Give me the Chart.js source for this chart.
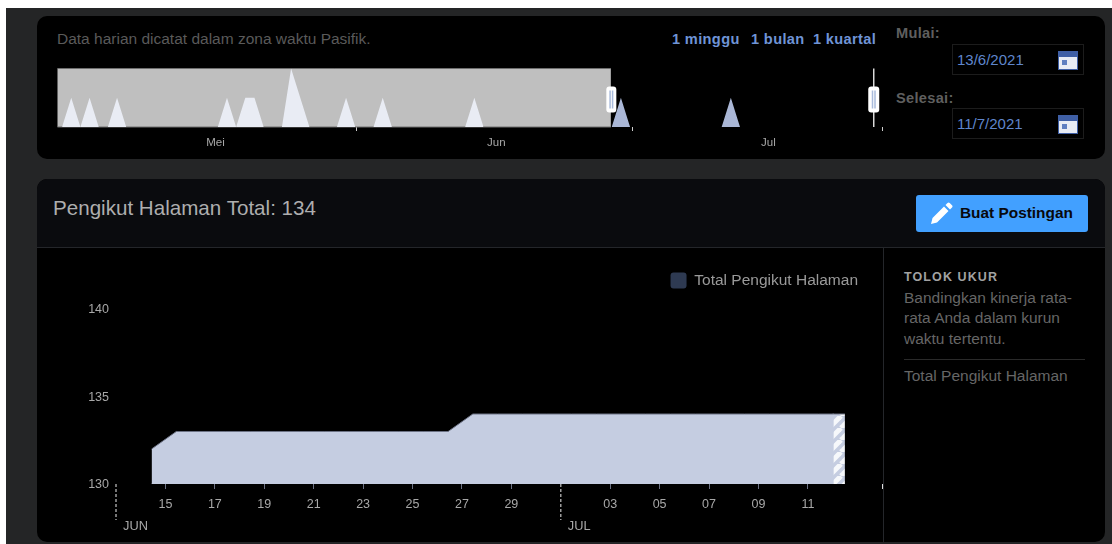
<!DOCTYPE html>
<html lang="id">
<head>
<meta charset="utf-8">
<title>Pengikut Halaman Total</title>
<script src="https://cdn.jsdelivr.net/npm/chart.js@4"></script>
<style>
  html, body { margin: 0; padding: 0; background: #fff; width: 1112px; height: 544px; overflow: hidden; font-family: "Liberation Sans", Arial, sans-serif; }
  .abs, canvas { position: absolute; }
  .txt { position: absolute; white-space: nowrap; line-height: 1; }
  #page { left: 6px; top: 8px; width: 1106px; height: 536px; background: #242526; }
  #rangeCard { left: 37px; top: 16px; width: 1068px; height: 143px; background: #000; border-radius: 10px; }
  #mainCard { left: 37px; top: 179px; width: 1068px; height: 363px; background: #000; border-radius: 10px; overflow: hidden; }
  #mainHead { left: 0; top: 0; width: 1068px; height: 68px; background: #0a0b0e; border-bottom: 1px solid #24262a; }
  #divider { left: 846px; top: 69px; width: 1px; height: 294px; background: #24262a; }
  .link { color: #6f94d6; font-weight: bold; font-size: 14.6px; letter-spacing: .35px; top: 32px; }
  .lab { color: #5f5f5f; font-weight: bold; font-size: 14.6px; letter-spacing: .3px; left: 896px; }
  .date { position: absolute; left: 952px; width: 130px; height: 29px; border: 1px solid #1c1c1c; background: #000; }
  .date span { position: absolute; left: 4px; top: 7px; font-size: 15px; line-height: 1; color: #5f86cc; }
  .date svg { position: absolute; left: 105px; top: 6px; }
  #btn { left: 916px; top: 195px; width: 172px; height: 37px; background: #42a0ff; border-radius: 3px; }
  #btn span { position: absolute; left: 44px; top: 10px; font-size: 15.4px; font-weight: bold; line-height: 1; color: #08090c; white-space: nowrap; }
  #btn svg { position: absolute; left: 14px; top: 7px; }
</style>
</head>
<body>
<div class="abs" id="page"></div>
<div class="abs" id="rangeCard"></div>
<div class="abs" id="mainCard"><div class="abs" id="mainHead"></div><div class="abs" id="divider"></div></div>

<div class="txt" style="left:57px;top:31px;font-size:15.5px;color:#5a5a5a">Data harian dicatat dalam zona waktu Pasifik.</div>
<div class="txt link" style="left:672px">1 minggu</div>
<div class="txt link" style="left:751px">1 bulan</div>
<div class="txt link" style="left:813px">1 kuartal</div>
<div class="txt lab" style="top:26px">Mulai:</div>
<div class="txt lab" style="top:91px">Selesai:</div>
<div class="date" style="top:44px"><span>13/6/2021</span>
  <svg width="20" height="19"><rect width="20" height="19" fill="#3f5fa5"/><rect x="1" y="6" width="18" height="12" fill="#e8ecf4"/><rect x="4" y="9" width="5" height="5" fill="#5f7fc0"/></svg></div>
<div class="date" style="top:108px"><span>11/7/2021</span>
  <svg width="20" height="19"><rect width="20" height="19" fill="#3f5fa5"/><rect x="1" y="6" width="18" height="12" fill="#e8ecf4"/><rect x="4" y="9" width="5" height="5" fill="#5f7fc0"/></svg></div>

<div class="txt" style="left:53px;top:198px;font-size:20.6px;color:#aeaeae">Pengikut Halaman Total: 134</div>
<div class="abs" id="btn">
  <svg width="23" height="23" viewBox="0 0 23 23"><path d="M1 22l1.5-6L14 4.5l4.5 4.5L7 20.5z M15.5 3l2-2a1.6 1.6 0 0 1 2.2 0l2.3 2.3a1.6 1.6 0 0 1 0 2.2l-2 2z" fill="#fff"/></svg>
  <span>Buat Postingan</span>
</div>

<div class="txt" style="left:904px;top:271px;font-size:12.5px;font-weight:bold;letter-spacing:1.1px;color:#a2a2a2">TOLOK UKUR</div>
<div class="txt" style="left:904px;top:290px;font-size:15.5px;color:#666">Bandingkan kinerja rata-</div>
<div class="txt" style="left:904px;top:310px;font-size:15.5px;color:#666">rata Anda dalam kurun</div>
<div class="txt" style="left:904px;top:331px;font-size:15.5px;color:#666">waktu tertentu.</div>
<div class="abs" style="left:904px;top:359px;width:181px;height:1px;background:#2a2a2a"></div>
<div class="txt" style="left:904px;top:368px;font-size:15.5px;color:#666">Total Pengikut Halaman</div>

<canvas id="overview" width="840" height="95" style="left:50px;top:60px"></canvas>
<canvas id="followers" width="853" height="294" style="left:37px;top:248px"></canvas>

<script>
// Overview strip: days counted from the start of the three-month window.
const overviewDays = [0.5, 1.5, 2.5, 3.5, 4.5, 5.5, 6.5, 7.5, 17.5, 18.5, 19.5, 20.5, 21.5, 22.5, 24.5, 25.5, 27.5, 30.5, 31.5, 32.5, 34.5, 35.5, 36.5, 44.5, 45.5, 46.5];
const overviewCounts = [0, 1, 0, 1, 0, 0, 1, 0, 0, 1, 0, 1, 1, 0, 0, 2, 0, 0, 1, 0, 0, 1, 0, 0, 1, 0];
const selectedDays = [60.5, 61.5, 62.5, 72.5, 73.5, 74.5];
const selectedCounts = [0, 1, 0, 0, 1, 0];
const overviewTickDays = [17.25, 32.6, 47.9, 62.8, 77.6, 90];
const overviewTickLabels = ['Mei', '', 'Jun', '', 'Jul', ''];
const selectionStart = 60.4;
const selectionEnd = 89.1;

// Followers chart: days counted from 13 June 2021.
const followerDays = [1.44, 2.44, 3.44, 4.44, 5.44, 6.44, 7.44, 8.44, 9.44, 10.44, 11.44, 12.44, 13.44, 14.44, 15.44, 16.44, 17.44, 18.44, 19.44, 20.44, 21.44, 22.44, 23.44, 24.44, 25.44, 26.44, 27.44, 28.44, 29.05];
const followerTotals = [132, 133, 133, 133, 133, 133, 133, 133, 133, 133, 133, 133, 133, 134, 134, 134, 134, 134, 134, 134, 134, 134, 134, 134, 134, 134, 134, 134, 134];
const partialDays = [29, 29.5];
const partialTotals = [134, 134];
const baselineDays = [1.44, 29.5];
const baselineTotals = [130, 130];
const tickDays = [2, 4, 6, 8, 10, 12, 14, 16, 18, 20, 22, 24, 26, 28, 31];
const tickLabels = ['15', '17', '19', '21', '23', '25', '27', '29', '', '03', '05', '07', '09', '11', ''];
const monthDays = [0, 18];
const monthLabels = ['JUN', 'JUL'];
const yTicks = [130, 135, 140];
const seriesName = 'Total Pengikut Halaman';

const FONT = '"Liberation Sans", Arial, sans-serif';
const points = (xs, ys) => xs.map((x, i) => ({ x, y: ys[i] }));

// Repeating diagonal stripes for the day that is still being counted.
function stripePattern() {
  const c = document.createElement('canvas');
  c.width = c.height = 12;
  const g = c.getContext('2d');
  g.fillStyle = '#c5cde1';
  g.fillRect(0, 0, 12, 12);
  g.strokeStyle = '#f6f8fb';
  g.lineWidth = 5;
  for (const o of [-12, 0, 12]) {
    g.beginPath();
    g.moveTo(o, 12);
    g.lineTo(o + 12, 0);
    g.stroke();
  }
  return g.createPattern(c, 'repeat');
}

function grip(g, left, top, w, h) {
  g.fillStyle = '#fff';
  g.beginPath();
  g.roundRect(left, top, w, h, 3);
  g.fill();
  g.fillStyle = '#a9bbdc';
  g.fillRect(left + w / 2 - 2, top + 4, 1.5, h - 8);
  g.fillRect(left + w / 2 + 0.5, top + 4, 1.5, h - 8);
}

// Grey veil over the days outside the selected range, plus the two drag handles.
const rangeSelection = {
  id: 'rangeSelection',
  beforeDatasetsDraw(chart) {
    const g = chart.ctx, a = chart.chartArea, x = chart.scales.x;
    const right = x.getPixelForValue(selectionStart);
    g.save();
    g.fillStyle = '#bfbfbf';
    g.fillRect(a.left, a.top, right - a.left, a.bottom - a.top);
    g.strokeStyle = '#6f6f6f';
    g.lineWidth = 1;
    g.beginPath();
    g.moveTo(a.left, a.top); g.lineTo(right, a.top);
    g.moveTo(a.left, a.bottom); g.lineTo(right, a.bottom);
    g.stroke();
    g.restore();
  },
  afterDraw(chart) {
    const g = chart.ctx, a = chart.chartArea, x = chart.scales.x;
    const start = x.getPixelForValue(selectionStart);
    const end = x.getPixelForValue(selectionEnd);
    g.save();
    g.strokeStyle = '#e6e6e6';
    g.lineWidth = 1.4;
    g.beginPath();
    g.moveTo(end, a.top); g.lineTo(end, a.bottom);
    g.stroke();
    grip(g, start - 4.5, a.top + 18, 10, 26);
    grip(g, end - 5.5, a.top + 18, 11, 26);
    g.restore();
  }
};

new Chart(document.getElementById('overview'), {
  type: 'line',
  plugins: [rangeSelection],
  data: {
    datasets: [
      { data: points(overviewDays, overviewCounts), backgroundColor: '#e9ecf4', borderWidth: 0, fill: 'start', pointRadius: 0, tension: 0 },
      { data: points(selectedDays, selectedCounts), backgroundColor: '#aab7d6', borderWidth: 0, fill: 'start', pointRadius: 0, tension: 0 }
    ]
  },
  options: {
    responsive: false, animation: false, devicePixelRatio: 1,
    layout: { padding: { left: 7.5, right: 8, top: 8.5, bottom: 0 } },
    plugins: { legend: { display: false }, tooltip: { enabled: false } },
    scales: {
      x: {
        type: 'linear', min: 0, max: 90,
        afterBuildTicks: s => { s.ticks = overviewTickDays.map(value => ({ value })); },
        afterFit: s => { s.height = 28; },
        border: { display: false },
        grid: { drawOnChartArea: false, tickLength: 4, tickWidth: 1,
          tickColor: c => (overviewTickLabels[c.index] === '' ? '#cfcfcf' : 'transparent') },
        ticks: { autoSkip: false, maxRotation: 0, padding: 5, color: '#a8a8a8', font: { family: FONT, size: 11.5 },
          callback: (v, i) => overviewTickLabels[i] }
      },
      y: { display: false, min: 0, max: 2 }
    }
  }
});

// Long dashed marks and names at the first day of each month.
const monthMarks = {
  id: 'monthMarks',
  afterDraw(chart) {
    const g = chart.ctx, a = chart.chartArea, x = chart.scales.x;
    g.save();
    g.strokeStyle = '#a8a8a8';
    g.lineWidth = 1.4;
    g.setLineDash([3, 2]);
    g.fillStyle = '#a8a8a8';
    g.font = '12.8px ' + FONT;
    g.textBaseline = 'middle';
    monthDays.forEach((d, i) => {
      const px = x.getPixelForValue(d);
      g.beginPath();
      g.moveTo(px, a.bottom);
      g.lineTo(px, a.bottom + 36);
      g.stroke();
      g.fillText(monthLabels[i], px + 7, a.bottom + 42);
    });
    g.restore();
  }
};

// Reserve the band between the legend and the top of the plot.
const legendBand = {
  id: 'legendBand',
  beforeInit(chart) {
    const fit = chart.legend.fit;
    chart.legend.fit = function () { fit.call(this); this.height = 46.5; };
  },
  afterLayout(chart) { chart.legend.right -= 22; }
};

new Chart(document.getElementById('followers'), {
  type: 'line',
  plugins: [legendBand, monthMarks],
  data: {
    datasets: [
      { label: seriesName, data: points(followerDays, followerTotals), borderColor: '#6c7284', borderWidth: 1, backgroundColor: '#c5cde1', fill: 'start', pointRadius: 0, tension: 0 },
      { label: 'partial', data: points(partialDays, partialTotals), borderColor: '#6c7284', borderWidth: 1, backgroundColor: stripePattern(), fill: 'start', pointRadius: 0, tension: 0 },
      { label: 'baseline', data: points(baselineDays, baselineTotals), borderColor: '#6c7284', borderWidth: 1.5, fill: false, pointRadius: 0, tension: 0 }
    ]
  },
  options: {
    responsive: false, animation: false, devicePixelRatio: 1,
    layout: { padding: { left: 0, right: 0, top: 14.5, bottom: 0 } },
    plugins: {
      tooltip: { enabled: false },
      legend: {
        position: 'top', align: 'end',
        labels: {
          color: '#9a9a9a', boxWidth: 16, boxHeight: 16, padding: 10, useBorderRadius: true, borderRadius: 3,
          font: { family: FONT, size: 15.5 },
          generateLabels: () => [{ text: seriesName, fontColor: '#9a9a9a', fillStyle: '#2e3a52', strokeStyle: '#2e3a52', lineWidth: 0, borderRadius: 3, datasetIndex: 0 }]
        }
      }
    },
    scales: {
      x: {
        type: 'linear', min: 0, max: 31,
        afterBuildTicks: s => { s.ticks = tickDays.map(value => ({ value })); },
        afterFit: s => { s.height = 58; },
        border: { display: false },
        grid: { drawOnChartArea: false, tickLength: 5, tickWidth: 1,
          tickColor: c => (c.index === tickDays.length - 1 ? '#dddddd' : tickLabels[c.index] === '' ? 'transparent' : '#6c7284') },
        ticks: { autoSkip: false, maxRotation: 0, padding: 8, color: '#a8a8a8', font: { family: FONT, size: 12.5 },
          callback: (v, i) => tickLabels[i] }
      },
      y: {
        min: 130, max: 140,
        afterBuildTicks: s => { s.ticks = yTicks.map(value => ({ value })); },
        afterFit: s => { s.width = 79; },
        border: { display: false },
        grid: { display: false, drawTicks: false },
        ticks: { padding: 7, labelOffset: 1, color: '#a8a8a8', font: { family: FONT, size: 12.5 } }
      }
    }
  }
});
</script>
</body>
</html>
